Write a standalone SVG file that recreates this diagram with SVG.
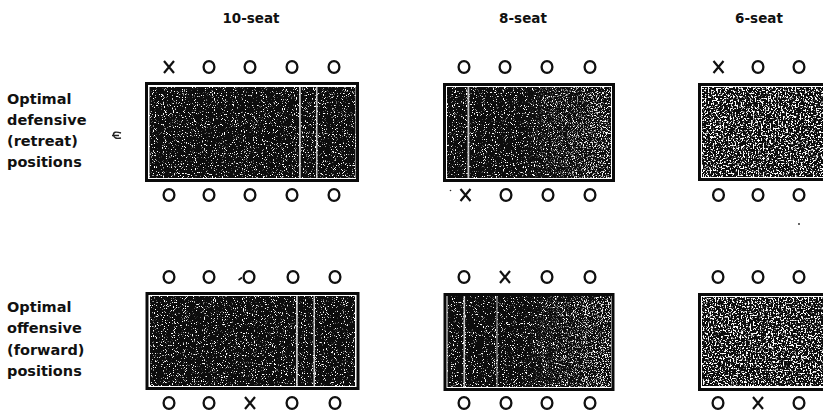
<svg xmlns="http://www.w3.org/2000/svg" width="823" height="415" viewBox="0 0 823 415">
<style>
.head{font-family:"DejaVu Sans","Liberation Sans",sans-serif;font-weight:bold;font-size:13.5px;fill:#111;text-anchor:middle}
.side{font-family:"DejaVu Sans","Liberation Sans",sans-serif;font-weight:bold;font-size:14.5px;fill:#111}
.frame{fill:none;stroke:#0a0a0a;stroke-width:3}
.ink{fill:#0c0c0c}
.gap{fill:#fff;opacity:0.75}
</style>
<defs>
<g id="o"><ellipse cx="0" cy="0" rx="5.4" ry="5.9" fill="none" stroke="#111" stroke-width="2.3"/></g>
<g id="x"><path d="M-5,-6 L5,6 M5,-6 L-5,6" fill="none" stroke="#111" stroke-width="2.2"/></g>
<filter id="spDark" x="0" y="0" width="1" height="1" color-interpolation-filters="sRGB">
<feTurbulence type="fractalNoise" baseFrequency="0.9" numOctaves="2" seed="4"/>
<feColorMatrix type="matrix" values="0 0 0 0 1  0 0 0 0 1  0 0 0 0 1  10 0 0 0 -6.1"/>
</filter>
<filter id="spMid" x="0" y="0" width="1" height="1" color-interpolation-filters="sRGB">
<feTurbulence type="fractalNoise" baseFrequency="0.8" numOctaves="3" seed="9"/>
<feColorMatrix type="matrix" values="0 0 0 0 1  0 0 0 0 1  0 0 0 0 1  10 0 0 0 -5.7"/>
</filter>
<filter id="spLight" x="0" y="0" width="1" height="1" color-interpolation-filters="sRGB">
<feTurbulence type="fractalNoise" baseFrequency="0.6" numOctaves="3" seed="13"/>
<feColorMatrix type="matrix" values="0 0 0 0 1  0 0 0 0 1  0 0 0 0 1  10 0 0 0 -5.25"/>
</filter>
<linearGradient id="g8" x1="0" y1="0" x2="1" y2="0">
<stop offset="0" stop-color="#000"/>
<stop offset="0.45" stop-color="#000"/>
<stop offset="1" stop-color="#fff"/>
</linearGradient>
<mask id="m8" maskContentUnits="objectBoundingBox"><rect x="0" y="0" width="1" height="1" fill="url(#g8)"/></mask>
</defs>
<rect x="0" y="0" width="823" height="415" fill="#fff"/>

<g id="headings">
<text class="head" x="251" y="23">10-seat</text>
<text class="head" x="523" y="23">8-seat</text>
<text class="head" x="759" y="23">6-seat</text>
</g>

<g id="label-defensive">
<text class="side" x="7" y="104">Optimal</text>
<text class="side" x="7" y="125">defensive</text>
<text class="side" x="7" y="146">(retreat)</text>
<text class="side" x="7" y="167">positions</text>
</g>
<g id="label-offensive">
<text class="side" x="7" y="312">Optimal</text>
<text class="side" x="7" y="333">offensive</text>
<text class="side" x="7" y="355">(forward)</text>
<text class="side" x="7" y="376">positions</text>
</g>
<path d="M121,133 Q113,130.5 113.5,135 Q114,139.5 121,138 M112,135.5 L119,135.5" fill="none" stroke="#222" stroke-width="1.4"/>

<g id="defensive-10">
<rect class="ink" x="149.5" y="87" width="206" height="91"/>
<rect x="149.5" y="87" width="206" height="91" fill="#fff" filter="url(#spDark)"/>
<rect class="gap" x="299" y="87" width="1.8" height="91"/>
<rect class="gap" x="316" y="87" width="1.5" height="91"/>
<rect class="frame" x="146.5" y="83.5" width="211" height="97"/>
<use href="#x" x="169" y="67"/><use href="#o" x="209" y="67"/><use href="#o" x="250" y="67"/><use href="#o" x="292" y="67"/><use href="#o" x="334" y="67"/>
<use href="#o" x="169" y="195"/><use href="#o" x="209" y="195"/><use href="#o" x="250" y="195"/><use href="#o" x="292" y="195"/><use href="#o" x="334" y="195"/>
</g>

<g id="defensive-8">
<rect class="ink" x="447" y="87" width="164" height="91"/>
<rect x="447" y="87" width="164" height="91" fill="#fff" filter="url(#spDark)"/>
<rect x="447" y="87" width="164" height="91" fill="#fff" filter="url(#spMid)" mask="url(#m8)"/>
<rect class="gap" x="467.5" y="87" width="1.8" height="91"/>
<rect class="frame" x="444.5" y="84.5" width="169" height="96"/>
<use href="#o" x="464" y="67"/><use href="#o" x="505" y="67"/><use href="#o" x="547" y="67"/><use href="#o" x="590" y="67"/>
<use href="#x" x="465.5" y="195"/><use href="#o" x="506" y="195"/><use href="#o" x="548" y="195"/><use href="#o" x="590" y="195"/>
<circle cx="450.5" cy="190.5" r="0.8" fill="#333"/>
</g>

<g id="defensive-6">
<rect class="ink" x="702" y="87" width="130" height="90"/>
<rect x="702" y="87" width="130" height="90" fill="#fff" filter="url(#spLight)"/>
<rect class="frame" x="699.5" y="84.5" width="140" height="95"/>
<use href="#x" x="718.5" y="67"/><use href="#o" x="758" y="67"/><use href="#o" x="799" y="67"/>
<use href="#o" x="718.5" y="195"/><use href="#o" x="758" y="195"/><use href="#o" x="799" y="195"/>
</g>

<g id="offensive-10">
<rect class="ink" x="150" y="296" width="205" height="90"/>
<rect x="150" y="296" width="205" height="90" fill="#fff" filter="url(#spDark)"/>
<rect class="gap" x="296" y="296" width="1.8" height="90"/>
<rect class="gap" x="313.5" y="296" width="1.5" height="90"/>
<rect class="frame" x="147" y="293.5" width="211" height="95"/>
<use href="#o" x="169" y="277"/><use href="#o" x="209" y="277"/><use href="#o" x="249" y="277"/><use href="#o" x="293" y="277"/><use href="#o" x="335" y="277"/>
<path d="M238.5,280 L242,277.5" stroke="#111" stroke-width="1.6"/>
<use href="#o" x="169" y="403"/><use href="#o" x="209" y="403"/><use href="#x" x="250" y="403"/><use href="#o" x="292" y="403"/><use href="#o" x="335" y="403"/>
</g>

<g id="offensive-8">
<rect class="ink" x="447.5" y="296" width="163.5" height="91"/>
<rect x="447.5" y="296" width="163.5" height="91" fill="#fff" filter="url(#spDark)"/>
<rect x="447.5" y="296" width="163.5" height="91" fill="#fff" filter="url(#spMid)" mask="url(#m8)"/>
<rect class="gap" x="463.5" y="296" width="1.6" height="91"/>
<rect class="gap" x="496.5" y="296" width="1" height="91" opacity="0.4"/>
<rect class="frame" x="445" y="294.5" width="168" height="95"/>
<use href="#o" x="464" y="277"/><use href="#x" x="505" y="277"/><use href="#o" x="547" y="277"/><use href="#o" x="590" y="277"/>
<use href="#o" x="464" y="403"/><use href="#o" x="506" y="403"/><use href="#o" x="547" y="403"/><use href="#o" x="590" y="403"/>
</g>

<g id="offensive-6">
<rect class="ink" x="702" y="297" width="130" height="89"/>
<rect x="702" y="297" width="130" height="89" fill="#fff" filter="url(#spLight)"/>
<rect class="frame" x="699.5" y="294.5" width="140" height="95"/>
<use href="#o" x="718" y="277"/><use href="#o" x="758" y="277"/><use href="#o" x="799" y="277"/>
<use href="#o" x="718" y="403"/><use href="#x" x="758" y="403"/><use href="#o" x="799" y="403"/>
<circle cx="799" cy="224" r="0.9" fill="#222"/>
</g>
</svg>
